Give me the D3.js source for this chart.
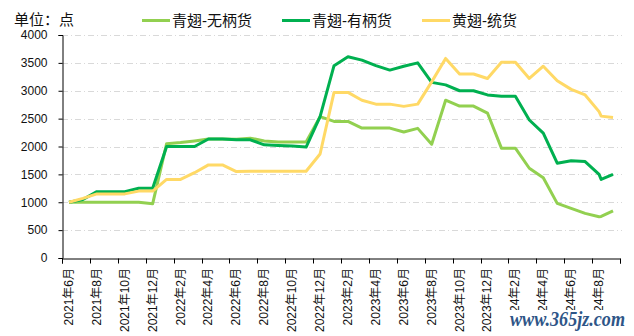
<!DOCTYPE html>
<html><head><meta charset="utf-8">
<script src="https://cdn.jsdelivr.net/npm/d3@7/dist/d3.min.js"></script>
<style>
body{margin:0;background:#fff;}
svg{display:block;font-family:"Liberation Sans","Noto Sans CJK SC",sans-serif;}
</style></head>
<body><svg id="c" width="634" height="336"></svg>
<script>
// month categories 2021-06 .. 2024-09
const months = [];
for (let i = 0; i < 40; i++) { const m = 5 + i; months.push((2021 + Math.floor(m / 12)) + "年" + (m % 12 + 1) + "月"); }
// x positions (month index) of data points; one extra reading late in 2024-08
const pointPos = [0,1,2,3,4,5,6,7,8,9,10,11,12,13,14,15,16,17,18,19,20,21,22,23,24,25,26,27,28,29,30,31,32,33,34,35,36,37,38,38.15,39];
const seriesNames = ["青翅-无柄货", "青翅-有柄货", "黄翅-统货"];
const wuBing = [1000,1000,1000,1000,1000,1000,975,2050,2070,2100,2135,2135,2130,2150,2100,2080,2080,2080,2535,2450,2450,2330,2330,2330,2260,2325,2040,2830,2725,2725,2600,1970,1970,1610,1440,980,890,800,740,745,845];
const youBing = [1000,1050,1190,1190,1190,1250,1250,2000,2000,2000,2135,2135,2120,2120,2030,2020,2010,1990,2535,3450,3610,3550,3450,3370,3440,3500,3150,3105,3000,3000,2925,2900,2900,2475,2240,1700,1745,1730,1500,1410,1500];
const tongHuo = [1000,1070,1150,1150,1150,1200,1200,1410,1410,1530,1670,1670,1550,1555,1555,1555,1555,1555,1865,2970,2970,2830,2760,2760,2720,2760,3160,3580,3300,3300,3220,3510,3510,3220,3440,3180,3025,2925,2625,2545,2520];
const yTicks = [0,500,1000,1500,2000,2500,3000,3500,4000];
const colors = ["#92D050", "#00B050", "#FFD966"];

const svg = d3.select("#c");
const L = 62, R = 620, T = 35, B = 258;
const x = d3.scaleLinear().domain([-0.5, 39.5]).range([L, R]);
const y = d3.scaleLinear().domain([0, 4000]).range([B, T]);

// gridlines
svg.append("g").selectAll("line").data(yTicks.filter(v => v > 0)).join("line")
  .attr("x1", L).attr("x2", R + 2).attr("y1", d => Math.round(y(d)) + 0.5).attr("y2", d => Math.round(y(d)) + 0.5)
  .attr("stroke", "#D9D9D9").attr("stroke-width", 1).attr("stroke-dasharray", "6,3,1,3");

// y axis
const ya = svg.append("g").attr("transform", `translate(${L + 0.5},0)`)
  .call(d3.axisLeft(y).tickValues(yTicks).tickSize(4).tickPadding(11).tickFormat(d3.format("d")));
ya.select(".domain").attr("stroke", "#000");
ya.selectAll(".tick line").attr("stroke", "#000");
ya.selectAll("text").attr("font-size", 12).attr("fill", "#111").attr("font-family", "Liberation Sans");

// x axis
const boundaries = d3.range(-0.5, 40, 2);
const xa = svg.append("g").attr("transform", `translate(0,${B + 0.5})`)
  .call(d3.axisBottom(x).tickValues(boundaries).tickSize(5).tickFormat(""));
xa.select(".domain").attr("stroke", "#000");
xa.selectAll(".tick line").attr("stroke", "#000");
xa.selectAll(".tick").attr("transform", d => `translate(${Math.round(x(d)) + 0.5},0)`);

const labelIdx = d3.range(0, 40, 2);
svg.append("g").selectAll("text").data(labelIdx).join("text")
  .attr("transform", d => `translate(${x(d) + 4},${B + 10}) rotate(-90)`)
  .attr("text-anchor", "end").attr("font-size", 12).attr("fill", "#111")
  .text(d => months[d]);

// lines
const allSeries = [wuBing, youBing, tongHuo];
const line = d3.line().x((d, i) => x(pointPos[i])).y(d => y(d));
[0, 1, 2].forEach(k => {
  svg.append("path").datum(allSeries[k]).attr("d", line)
    .attr("fill", "none").attr("stroke", colors[k]).attr("stroke-width", 3)
    .attr("stroke-linejoin", "round");
});

// title & legend
svg.append("text").attr("x", 14).attr("y", 25).attr("font-size", 15).attr("fill", "#111").text("单位：点");
const legX = [142, 282, 422];
seriesNames.forEach((n, k) => {
  svg.append("line").attr("x1", legX[k]).attr("x2", legX[k] + 28).attr("y1", 20.5).attr("y2", 20.5)
    .attr("stroke", colors[k]).attr("stroke-width", 3);
  svg.append("text").attr("x", legX[k] + 30).attr("y", 25.5).attr("font-size", 15).attr("fill", "#111").text(n);
});

// watermark
svg.append("rect").attr("x", 505).attr("y", 310).attr("width", 129).attr("height", 26).attr("fill", "#fff");
svg.append("text").attr("x", 510).attr("y", 326).attr("font-size", 20).attr("font-family", "Liberation Serif")
  .attr("font-style", "italic").attr("font-weight", "bold").attr("fill", "#2E5587")
  .attr("textLength", 115).attr("lengthAdjust", "spacingAndGlyphs").text("www.365jz.com");
</script></body></html>
